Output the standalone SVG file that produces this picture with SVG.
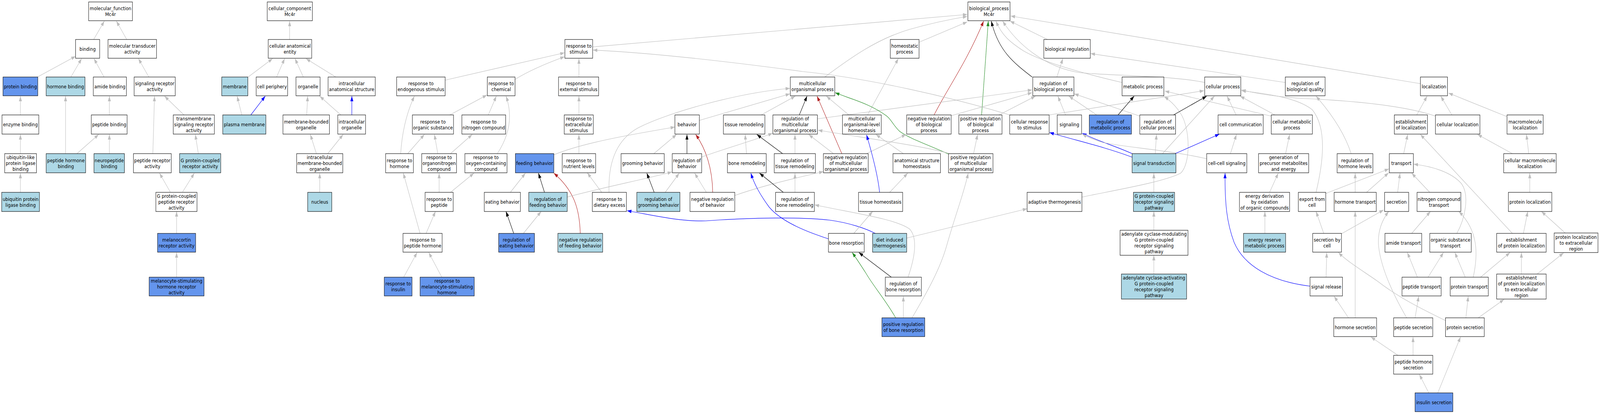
<svg xmlns="http://www.w3.org/2000/svg" width="4784" height="1059" viewBox="0 0 4784 1059" preserveAspectRatio="none">
<defs>
<style>
svg{width:100vw;height:100vh}
rect{stroke:#000;stroke-width:1.1;fill:#fff}
rect.cb{fill:#6495ED}
rect.lb{fill:#ADD8E6}
text{font-family:"DejaVu Sans","Liberation Sans",sans-serif;font-size:13px;fill:#000;text-anchor:middle}
path{fill:none;stroke:#BEBEBE;stroke-width:1.2;marker-end:url(#mg)}
path.k{stroke:#000;marker-end:url(#mk)}
path.r{stroke:#B22222;marker-end:url(#mr)}
path.g{stroke:#228B22;marker-end:url(#mgr)}
path.b{stroke:#0000FF;marker-end:url(#mb)}
</style>
<marker id="mg" markerUnits="userSpaceOnUse" viewBox="0 0 13 9" refX="13" refY="4.5" markerWidth="13" markerHeight="9" orient="auto"><polygon points="0,0 13,4.5 0,9" fill="#BEBEBE"/></marker>
<marker id="mk" markerUnits="userSpaceOnUse" viewBox="0 0 13 9" refX="13" refY="4.5" markerWidth="13" markerHeight="9" orient="auto"><polygon points="0,0 13,4.5 0,9" fill="#000"/></marker>
<marker id="mr" markerUnits="userSpaceOnUse" viewBox="0 0 13 9" refX="13" refY="4.5" markerWidth="13" markerHeight="9" orient="auto"><polygon points="0,0 13,4.5 0,9" fill="#B22222"/></marker>
<marker id="mgr" markerUnits="userSpaceOnUse" viewBox="0 0 13 9" refX="13" refY="4.5" markerWidth="13" markerHeight="9" orient="auto"><polygon points="0,0 13,4.5 0,9" fill="#228B22"/></marker>
<marker id="mb" markerUnits="userSpaceOnUse" viewBox="0 0 13 9" refX="13" refY="4.5" markerWidth="13" markerHeight="9" orient="auto"><polygon points="0,0 13,4.5 0,9" fill="#0000FF"/></marker>
</defs>
<rect x="0" y="0" width="4784" height="1059" style="fill:#fff;stroke:none"/>
<g id="edges">
<path d="M280,101 L312,54"/>
<path d="M379,101 L348,54"/>
<path d="M112,197 L226,144"/>
<path d="M212,197 L244,150"/>
<path d="M311,197 L281,150"/>
<path d="M445,197 L414,150"/>
<path d="M61,294 L61,246"/>
<path d="M327,294 L327,246"/>
<path d="M550,294 L492,246"/>
<path d="M457,393 L462,246"/>
<path d="M61,393 L61,344"/>
<path d="M196,393 L196,246"/>
<path d="M230,393 L295,344"/>
<path d="M327,393 L327,344"/>
<path d="M593,393 L584,344"/>
<path d="M61,492 L61,443"/>
<path d="M509,491 L477,443"/>
<path d="M546,491 L581,443"/>
<path d="M528,597 L528,541"/>
<path d="M528,709 L528,646"/>
<path d="M742,197 L815,150"/>
<path d="M723,294 L709,246"/>
<path class="b" d="M750,294 L793,246"/>
<path d="M827,197 L851,150"/>
<path d="M907,197 L882,150"/>
<path d="M1004,197 L915,150"/>
<path d="M866,101 L866,54"/>
<path d="M917,294 L920,246"/>
<path d="M1019,294 L956,246"/>
<path class="b" d="M1052,294 L1052,246"/>
<path d="M946,393 L928,344"/>
<path d="M980,393 L1026,344"/>
<path d="M956,492 L956,443"/>
<path d="M1331,205 L1688,135"/>
<path d="M1540,203 C1580,182 1640,160 1688,145"/>
<path d="M1731,197 L1731,150"/>
<path d="M1345,294 L1456,243"/>
<path d="M1460,294 L1484,246"/>
<path d="M1487,393 C1520,350 1535,300 1513,246"/>
<path d="M1198,393 C1202,340 1215,290 1239,246"/>
<path d="M1219,393 L1269,344"/>
<path d="M1309,393 L1299,344"/>
<path d="M1347,393 L1412,344"/>
<path d="M1313,492 L1313,443"/>
<path d="M1347,492 L1417,443"/>
<path d="M1526,492 L1571,443"/>
<path d="M1256,597 L1206,443"/>
<path d="M1274,597 L1302,541"/>
<path d="M1207,709 L1247,646"/>
<path d="M1321,709 L1282,646"/>
<path class="k" d="M1536,597 L1513,541"/>
<path d="M1565,597 L1618,541"/>
<path d="M1731,294 L1731,246"/>
<path d="M1731,393 L1731,344"/>
<path d="M1656,396 C1740,366 1880,345 2018,325"/>
<path d="M1799,492 L1756,442"/>
<path d="M1821,492 C1818,420 1840,360 1906,328 C1990,290 2200,238 2362,226"/>
<path d="M2091,308 L2362,240"/>
<path d="M2276,294 L2378,246"/>
<path class="k" d="M2390,294 L2413,246"/>
<path d="M1955,393 L2023,344"/>
<path class="k" d="M2054,393 L2054,344"/>
<path class="r" d="M2131,492 C2130,430 2110,380 2080,344"/>
<path d="M2097,402 C2150,385 2250,360 2310,341"/>
<path d="M2232,393 L2228,344"/>
<path class="k" d="M2340,393 L2263,344"/>
<path d="M2377,393 L2377,344"/>
<path class="k" d="M1628,492 L1610,443"/>
<path class="r" d="M1735,597 C1733,540 1720,490 1656,443"/>
<path d="M1696,504 C1800,480 1920,460 2009,440"/>
<path class="k" d="M1956,492 L1934,443"/>
<path d="M1989,492 L2031,443"/>
<path d="M2112,492 L2077,443"/>
<path d="M2197,500 C2280,475 2380,455 2462,439"/>
<path class="b" d="M2477,611 C2420,595 2340,570 2300,530 C2270,495 2255,470 2245,443"/>
<path class="k" d="M2342,492 L2271,443"/>
<path d="M2377,492 L2377,443"/>
<path class="b" d="M2617,597 C2590,585 2540,570 2480,563 C2400,555 2250,556 2110,565 C2030,567 1950,550 1875,539"/>
<path d="M1772,120 L2892,37"/>
<path d="M2466,197 C2540,150 2620,100 2720,75 C2790,58 2850,48 2892,42"/>
<path d="M2748,108 L2892,56"/>
<path class="r" d="M2793,294 C2830,230 2890,160 2941,54"/>
<path class="g" d="M2935,294 L2955,54"/>
<path class="k" d="M3086,197 C3030,160 2985,130 2964,54"/>
<path d="M3355,211 C3250,190 3120,160 3060,130 C3020,108 2995,90 2978,54"/>
<path d="M3602,211 C3500,193 3350,195 3230,186 C3120,172 3040,110 2998,54"/>
<path d="M3132,101 L3020,54"/>
<path d="M4247,214 L3022,41"/>
<path d="M3843,211 L3261,137"/>
<path d="M3160,197 L3178,150"/>
<path d="M2444,304 L3086,230"/>
<path d="M2844,296 L3086,237"/>
<path d="M2987,294 L3096,246"/>
<path d="M3186,294 L3163,246"/>
<path d="M3279,294 L3196,246"/>
<path d="M3408,297 L3212,240"/>
<path d="M3027,296 C2850,250 2600,200 2400,183 C2200,160 1950,135 1773,128"/>
<path d="M3137,294 L3600,232"/>
<path d="M2594,294 L2686,150"/>
<path d="M2538,294 L2471,246"/>
<path class="r" d="M2517,393 L2443,246"/>
<path class="g" d="M2836,394 C2780,372 2720,355 2690,336 C2670,320 2665,305 2650,296 C2600,265 2550,255 2497,237"/>
<path d="M2492,393 L2418,344"/>
<path d="M2836,392 C2750,372 2600,355 2446,333"/>
<path d="M2591,393 L2709,344"/>
<path class="b" d="M2630,492 C2625,450 2610,400 2591,345"/>
<path d="M2660,492 L2714,443"/>
<path d="M2701,393 L2619,344"/>
<path d="M2911,393 L2923,344"/>
<path d="M2715,709 C2735,660 2745,610 2720,586 C2680,560 2550,545 2436,524"/>
<path d="M2727,813 C2770,750 2810,690 2830,630 C2860,540 2880,500 2895,443"/>
<path d="M2553,597 L2609,541"/>
<path d="M2711,609 L3071,534"/>
<path class="k" d="M2665,709 L2568,646"/>
<path class="g" d="M2678,813 C2650,770 2610,730 2590,700 C2575,680 2560,660 2548,646"/>
<path d="M2701,813 L2701,758"/>
<path d="M3235,504 C3350,484 3480,465 3530,443 C3560,420 3560,330 3530,290 C3515,270 3500,258 3481,247"/>
<path class="k" d="M3343,294 L3391,246"/>
<path d="M3801,297 L3483,233"/>
<path class="k" d="M3509,294 L3608,246"/>
<path d="M3476,393 L3631,246"/>
<path d="M3696,294 L3669,246"/>
<path d="M3812,294 L3708,246"/>
<path d="M4292,297 C4200,270 4050,258 3900,252 C3820,248 3760,240 3712,230"/>
<path d="M3935,492 C3955,420 3970,330 3924,281 C3880,250 3790,240 3712,232"/>
<path d="M4040,393 C4020,340 3980,290 3935,246"/>
<path class="b" d="M3385,393 C3340,375 3280,360 3236,341"/>
<path class="b" d="M3385,402 C3300,375 3220,360 3138,339"/>
<path d="M3608,406 C3500,385 3380,378 3300,365 C3270,358 3250,350 3236,343"/>
<path class="b" d="M3514,393 L3646,343"/>
<path d="M3679,393 L3697,344"/>
<path d="M3454,393 L3458,344"/>
<path d="M3844,393 L3856,344"/>
<path d="M3796,492 L3822,443"/>
<path d="M3450,492 L3450,443"/>
<path class="b" d="M3917,732 C3800,720 3720,680 3690,620 C3668,570 3662,520 3663,443"/>
<path d="M3450,589 L3450,541"/>
<path d="M3450,701 L3450,653"/>
<path d="M3782,597 L3782,541"/>
<path d="M3958,597 L3935,541"/>
<path d="M3965,709 L3967,646"/>
<path d="M4032,813 L3989,758"/>
<path d="M4236,294 L4267,246"/>
<path d="M4341,294 L4308,246"/>
<path d="M4505,298 L4331,238"/>
<path d="M4197,393 L4209,344"/>
<path d="M4522,393 L4418,344"/>
<path d="M4571,393 L4564,344"/>
<path d="M3964,495 L4153,432"/>
<path d="M4086,492 L4152,442"/>
<path d="M4179,492 L4186,443"/>
<path d="M4275,492 L4221,443"/>
<path d="M4356,597 C4380,560 4395,500 4370,470 C4340,440 4280,425 4227,420"/>
<path d="M4522,597 L4247,344"/>
<path d="M4052,492 L4052,443"/>
<path d="M4574,492 L4574,443"/>
<path d="M4052,813 L4052,541"/>
<path d="M4011,598 L4137,537"/>
<path d="M4206,813 C4170,760 4130,690 4122,630 C4118,590 4135,560 4152,541"/>
<path d="M4231,813 L4242,758"/>
<path d="M4322,820 C4250,790 4180,760 4120,720 C4070,690 4030,670 4002,646"/>
<path d="M4383,813 L4390,758"/>
<path d="M4420,813 L4497,766"/>
<path d="M4221,597 L4277,541"/>
<path d="M4238,709 L4208,646"/>
<path d="M4270,709 L4316,646"/>
<path d="M4381,709 L4350,646"/>
<path d="M4405,709 C4420,650 4420,590 4362,541"/>
<path d="M4427,709 L4515,646"/>
<path d="M4555,597 L4568,541"/>
<path d="M4680,596 L4609,541"/>
<path d="M4549,701 L4549,646"/>
<path d="M4596,701 L4675,647"/>
<path d="M4180,909 L4099,862"/>
<path d="M4225,909 L4225,862"/>
<path d="M4272,1005 L4244,958"/>
<path d="M4299,1005 L4367,862"/>
</g>
<g id="n_molecular_function"><rect x="265" y="5" width="131" height="48"/><text x="330.5" y="26.1">molecular_function<tspan x="330.5" dy="15">Mc4r</tspan></text></g>
<g id="n_cellular_component"><rect x="799" y="5" width="135" height="48"/><text x="866.5" y="26.1">cellular_component<tspan x="866.5" dy="15">Mc4r</tspan></text></g>
<g id="n_biological_process"><rect x="2894" y="5" width="126" height="48"/><text x="2957" y="26.1">biological_process<tspan x="2957" dy="15">Mc4r</tspan></text></g>
<g id="n_binding"><rect x="226" y="101" width="72" height="48"/><text x="262" y="129.6">binding</text></g>
<g id="n_molecular_transducer_activity"><rect x="323" y="101" width="145" height="48"/><text x="395.5" y="122.1">molecular transducer<tspan x="395.5" dy="15">activity</tspan></text></g>
<g id="n_cellular_anatomical_entity"><rect x="802" y="101" width="130" height="48"/><text x="867" y="122.1">cellular anatomical<tspan x="867" dy="15">entity</tspan></text></g>
<g id="n_response_to_stimulus"><rect x="1689" y="101" width="83" height="48"/><text x="1730.5" y="122.1">response to<tspan x="1730.5" dy="15">stimulus</tspan></text></g>
<g id="n_homeostatic_process"><rect x="2662" y="101" width="86" height="48"/><text x="2705" y="122.1">homeostatic<tspan x="2705" dy="15">process</tspan></text></g>
<g id="n_biological_regulation"><rect x="3121" y="101" width="139" height="48"/><text x="3190.5" y="129.6">biological regulation</text></g>
<g id="n_protein_binding"><rect class="cb" x="9" y="197" width="104" height="48"/><text x="61" y="225.6">protein binding</text></g>
<g id="n_hormone_binding"><rect class="lb" x="138" y="197" width="116" height="48"/><text x="196" y="225.6">hormone binding</text></g>
<g id="n_amide_binding"><rect x="279" y="197" width="99" height="48"/><text x="328.5" y="225.6">amide binding</text></g>
<g id="n_signaling_receptor_activity"><rect x="401" y="197" width="123" height="48"/><text x="462.5" y="218.1">signaling receptor<tspan x="462.5" dy="15">activity</tspan></text></g>
<g id="n_membrane"><rect class="lb" x="663" y="197" width="78" height="48"/><text x="702" y="225.6">membrane</text></g>
<g id="n_cell_periphery"><rect x="766" y="197" width="94" height="48"/><text x="813" y="225.6">cell periphery</text></g>
<g id="n_organelle"><rect x="885" y="197" width="72" height="48"/><text x="921" y="225.6">organelle</text></g>
<g id="n_intracellular_anatomical_structure"><rect x="981" y="197" width="141" height="48"/><text x="1051.5" y="218.1">intracellular<tspan x="1051.5" dy="15">anatomical structure</tspan></text></g>
<g id="n_response_to_endogenous_stimulus"><rect x="1186" y="197" width="145" height="48"/><text x="1258.5" y="218.1">response to<tspan x="1258.5" dy="15">endogenous stimulus</tspan></text></g>
<g id="n_response_to_chemical"><rect x="1457" y="197" width="83" height="48"/><text x="1498.5" y="218.1">response to<tspan x="1498.5" dy="15">chemical</tspan></text></g>
<g id="n_response_to_external_stimulus"><rect x="1670" y="197" width="120" height="48"/><text x="1730" y="218.1">response to<tspan x="1730" dy="15">external stimulus</tspan></text></g>
<g id="n_multicellular_organismal_process"><rect x="2363" y="197" width="133" height="48"/><text x="2429.5" y="218.1">multicellular<tspan x="2429.5" dy="15">organismal process</tspan></text></g>
<g id="n_regulation_of_biological_process"><rect x="3088" y="197" width="123" height="48"/><text x="3149.5" y="218.1">regulation of<tspan x="3149.5" dy="15">biological process</tspan></text></g>
<g id="n_metabolic_process"><rect x="3355" y="197" width="125" height="48"/><text x="3417.5" y="225.6">metabolic process</text></g>
<g id="n_cellular_process"><rect x="3602" y="197" width="108" height="48"/><text x="3656" y="225.6">cellular process</text></g>
<g id="n_regulation_of_biological_quality"><rect x="3843" y="197" width="119" height="48"/><text x="3902.5" y="218.1">regulation of<tspan x="3902.5" dy="15">biological quality</tspan></text></g>
<g id="n_localization"><rect x="4247" y="197" width="81" height="48"/><text x="4287.5" y="225.6">localization</text></g>
<g id="n_enzyme_binding"><rect x="6" y="294" width="110" height="49"/><text x="61" y="323.1">enzyme binding</text></g>
<g id="n_peptide_binding"><rect x="273" y="294" width="107" height="49"/><text x="326.5" y="323.1">peptide binding</text></g>
<g id="n_transmembrane_signaling_receptor_activity"><rect x="518" y="294" width="123" height="49"/><text x="579.5" y="308.1">transmembrane<tspan x="579.5" dy="15">signaling receptor</tspan><tspan x="579.5" dy="15">activity</tspan></text></g>
<g id="n_plasma_membrane"><rect class="lb" x="666" y="294" width="129" height="49"/><text x="730.5" y="323.1">plasma membrane</text></g>
<g id="n_membrane_bounded_organelle"><rect x="846" y="294" width="139" height="49"/><text x="915.5" y="315.6">membrane-bounded<tspan x="915.5" dy="15">organelle</tspan></text></g>
<g id="n_intracellular_organelle"><rect x="1010" y="294" width="83" height="49"/><text x="1051.5" y="315.6">intracellular<tspan x="1051.5" dy="15">organelle</tspan></text></g>
<g id="n_response_to_organic_substance"><rect x="1233" y="294" width="123" height="49"/><text x="1294.5" y="315.6">response to<tspan x="1294.5" dy="15">organic substance</tspan></text></g>
<g id="n_response_to_nitrogen_compound"><rect x="1381" y="294" width="131" height="49"/><text x="1446.5" y="315.6">response to<tspan x="1446.5" dy="15">nitrogen compound</tspan></text></g>
<g id="n_response_to_extracellular_stimulus"><rect x="1687" y="294" width="87" height="49"/><text x="1730.5" y="308.1">response to<tspan x="1730.5" dy="15">extracellular</tspan><tspan x="1730.5" dy="15">stimulus</tspan></text></g>
<g id="n_behavior"><rect x="2018" y="294" width="73" height="49"/><text x="2054.5" y="323.1">behavior</text></g>
<g id="n_tissue_remodeling"><rect x="2163" y="294" width="124" height="49"/><text x="2225" y="323.1">tissue remodeling</text></g>
<g id="n_regulation_of_multicellular_organismal_process"><rect x="2311" y="294" width="133" height="49"/><text x="2377.5" y="308.1">regulation of<tspan x="2377.5" dy="15">multicellular</tspan><tspan x="2377.5" dy="15">organismal process</tspan></text></g>
<g id="n_multicellular_organismal_level_homeostasis"><rect x="2519" y="294" width="116" height="49"/><text x="2577" y="308.1">multicellular<tspan x="2577" dy="15">organismal-level</tspan><tspan x="2577" dy="15">homeostasis</tspan></text></g>
<g id="n_negative_regulation_of_biological_process"><rect x="2711" y="294" width="133" height="49"/><text x="2777.5" y="308.1">negative regulation<tspan x="2777.5" dy="15">of biological</tspan><tspan x="2777.5" dy="15">process</tspan></text></g>
<g id="n_positive_regulation_of_biological_process"><rect x="2867" y="294" width="129" height="49"/><text x="2931.5" y="308.1">positive regulation<tspan x="2931.5" dy="15">of biological</tspan><tspan x="2931.5" dy="15">process</tspan></text></g>
<g id="n_cellular_response_to_stimulus"><rect x="3019" y="294" width="118" height="49"/><text x="3078" y="315.6">cellular response<tspan x="3078" dy="15">to stimulus</tspan></text></g>
<g id="n_signaling"><rect x="3161" y="294" width="73" height="49"/><text x="3197.5" y="323.1">signaling</text></g>
<g id="n_regulation_of_metabolic_process"><rect class="cb" x="3257" y="294" width="126" height="49"/><text x="3320" y="315.6">regulation of<tspan x="3320" dy="15">metabolic process</tspan></text></g>
<g id="n_regulation_of_cellular_process"><rect x="3408" y="294" width="107" height="49"/><text x="3461.5" y="315.6">regulation of<tspan x="3461.5" dy="15">cellular process</tspan></text></g>
<g id="n_cell_communication"><rect x="3642" y="294" width="135" height="49"/><text x="3709.5" y="323.1">cell communication</text></g>
<g id="n_cellular_metabolic_process"><rect x="3801" y="294" width="123" height="49"/><text x="3862.5" y="315.6">cellular metabolic<tspan x="3862.5" dy="15">process</tspan></text></g>
<g id="n_establishment_of_localization"><rect x="4169" y="294" width="99" height="49"/><text x="4218.5" y="315.6">establishment<tspan x="4218.5" dy="15">of localization</tspan></text></g>
<g id="n_cellular_localization"><rect x="4292" y="294" width="133" height="49"/><text x="4358.5" y="323.1">cellular localization</text></g>
<g id="n_macromolecule_localization"><rect x="4506" y="294" width="108" height="49"/><text x="4560" y="315.6">macromolecule<tspan x="4560" dy="15">localization</tspan></text></g>
<g id="n_ubiquitin_like_protein_ligase_binding"><rect x="14" y="393" width="95" height="49"/><text x="61.5" y="407.1">ubiquitin-like<tspan x="61.5" dy="15">protein ligase</tspan><tspan x="61.5" dy="15">binding</tspan></text></g>
<g id="n_peptide_hormone_binding"><rect class="lb" x="138" y="393" width="118" height="49"/><text x="197" y="414.6">peptide hormone<tspan x="197" dy="15">binding</tspan></text></g>
<g id="n_neuropeptide_binding"><rect class="lb" x="281" y="393" width="91" height="49"/><text x="326.5" y="414.6">neuropeptide<tspan x="326.5" dy="15">binding</tspan></text></g>
<g id="n_peptide_receptor_activity"><rect x="399" y="393" width="113" height="49"/><text x="455.5" y="414.6">peptide receptor<tspan x="455.5" dy="15">activity</tspan></text></g>
<g id="n_g_protein_coupled_receptor_activity"><rect class="lb" x="537" y="393" width="123" height="49"/><text x="598.5" y="414.6">G protein-coupled<tspan x="598.5" dy="15">receptor activity</tspan></text></g>
<g id="n_intracellular_membrane_bounded_organelle"><rect x="887" y="393" width="138" height="49"/><text x="956" y="407.1">intracellular<tspan x="956" dy="15">membrane-bounded</tspan><tspan x="956" dy="15">organelle</tspan></text></g>
<g id="n_response_to_hormone"><rect x="1153" y="393" width="83" height="49"/><text x="1194.5" y="414.6">response to<tspan x="1194.5" dy="15">hormone</tspan></text></g>
<g id="n_response_to_organonitrogen_compound"><rect x="1261" y="393" width="104" height="49"/><text x="1313" y="407.1">response to<tspan x="1313" dy="15">organonitrogen</tspan><tspan x="1313" dy="15">compound</tspan></text></g>
<g id="n_response_to_oxygen_containing_compound"><rect x="1390" y="393" width="126" height="49"/><text x="1453" y="407.1">response to<tspan x="1453" dy="15">oxygen-containing</tspan><tspan x="1453" dy="15">compound</tspan></text></g>
<g id="n_feeding_behavior"><rect class="cb" x="1541" y="393" width="115" height="49"/><text x="1598.5" y="422.1">feeding behavior</text></g>
<g id="n_response_to_nutrient_levels"><rect x="1681" y="393" width="100" height="49"/><text x="1731" y="414.6">response to<tspan x="1731" dy="15">nutrient levels</tspan></text></g>
<g id="n_grooming_behavior"><rect x="1857" y="393" width="129" height="49"/><text x="1921.5" y="422.1">grooming behavior</text></g>
<g id="n_regulation_of_behavior"><rect x="2010" y="393" width="88" height="49"/><text x="2054" y="414.6">regulation of<tspan x="2054" dy="15">behavior</tspan></text></g>
<g id="n_bone_remodeling"><rect x="2175" y="393" width="116" height="49"/><text x="2233" y="422.1">bone remodeling</text></g>
<g id="n_regulation_of_tissue_remodeling"><rect x="2315" y="393" width="123" height="49"/><text x="2376.5" y="414.6">regulation of<tspan x="2376.5" dy="15">tissue remodeling</tspan></text></g>
<g id="n_negative_regulation_of_multicellular_organismal_process"><rect x="2462" y="393" width="134" height="49"/><text x="2529" y="407.1">negative regulation<tspan x="2529" dy="15">of multicellular</tspan><tspan x="2529" dy="15">organismal process</tspan></text></g>
<g id="n_anatomical_structure_homeostasis"><rect x="2670" y="393" width="142" height="49"/><text x="2741" y="414.6">anatomical structure<tspan x="2741" dy="15">homeostasis</tspan></text></g>
<g id="n_positive_regulation_of_multicellular_organismal_process"><rect x="2836" y="393" width="133" height="49"/><text x="2902.5" y="407.1">positive regulation<tspan x="2902.5" dy="15">of multicellular</tspan><tspan x="2902.5" dy="15">organismal process</tspan></text></g>
<g id="n_signal_transduction"><rect class="lb" x="3385" y="393" width="131" height="49"/><text x="3450.5" y="422.1">signal transduction</text></g>
<g id="n_cell_cell_signaling"><rect x="3608" y="393" width="120" height="49"/><text x="3668" y="422.1">cell-cell signaling</text></g>
<g id="n_generation_of_precursor_metabolites_and_energy"><rect x="3763" y="393" width="150" height="49"/><text x="3838" y="407.1">generation of<tspan x="3838" dy="15">precursor metabolites</tspan><tspan x="3838" dy="15">and energy</tspan></text></g>
<g id="n_regulation_of_hormone_levels"><rect x="3998" y="393" width="107" height="49"/><text x="4051.5" y="414.6">regulation of<tspan x="4051.5" dy="15">hormone levels</tspan></text></g>
<g id="n_transport"><rect x="4154" y="393" width="72" height="49"/><text x="4190" y="422.1">transport</text></g>
<g id="n_cellular_macromolecule_localization"><rect x="4496" y="393" width="157" height="49"/><text x="4574.5" y="414.6">cellular macromolecule<tspan x="4574.5" dy="15">localization</tspan></text></g>
<g id="n_ubiquitin_protein_ligase_binding"><rect class="lb" x="5" y="492" width="113" height="49"/><text x="61.5" y="513.6">ubiquitin protein<tspan x="61.5" dy="15">ligase binding</tspan></text></g>
<g id="n_g_protein_coupled_peptide_receptor_activity"><rect x="466" y="492" width="123" height="49"/><text x="527.5" y="506.1">G protein-coupled<tspan x="527.5" dy="15">peptide receptor</tspan><tspan x="527.5" dy="15">activity</tspan></text></g>
<g id="n_nucleus"><rect class="lb" x="920" y="492" width="72" height="49"/><text x="956" y="521.1">nucleus</text></g>
<g id="n_response_to_peptide"><rect x="1271" y="492" width="84" height="49"/><text x="1313" y="513.6">response to<tspan x="1313" dy="15">peptide</tspan></text></g>
<g id="n_eating_behavior"><rect x="1448" y="492" width="108" height="49"/><text x="1502" y="521.1">eating behavior</text></g>
<g id="n_regulation_of_feeding_behavior"><rect class="lb" x="1581" y="492" width="115" height="49"/><text x="1638.5" y="513.6">regulation of<tspan x="1638.5" dy="15">feeding behavior</tspan></text></g>
<g id="n_response_to_dietary_excess"><rect x="1771" y="492" width="102" height="49"/><text x="1822" y="513.6">response to<tspan x="1822" dy="15">dietary excess</tspan></text></g>
<g id="n_regulation_of_grooming_behavior"><rect class="lb" x="1904" y="492" width="129" height="49"/><text x="1968.5" y="513.6">regulation of<tspan x="1968.5" dy="15">grooming behavior</tspan></text></g>
<g id="n_negative_regulation_of_behavior"><rect x="2063" y="492" width="134" height="49"/><text x="2130" y="513.6">negative regulation<tspan x="2130" dy="15">of behavior</tspan></text></g>
<g id="n_regulation_of_bone_remodeling"><rect x="2319" y="492" width="116" height="49"/><text x="2377" y="513.6">regulation of<tspan x="2377" dy="15">bone remodeling</tspan></text></g>
<g id="n_tissue_homeostasis"><rect x="2567" y="492" width="132" height="49"/><text x="2633" y="521.1">tissue homeostasis</text></g>
<g id="n_adaptive_thermogenesis"><rect x="3071" y="492" width="164" height="49"/><text x="3153" y="521.1">adaptive thermogenesis</text></g>
<g id="n_g_protein_coupled_receptor_signaling_pathway"><rect class="lb" x="3389" y="492" width="123" height="49"/><text x="3450.5" y="506.1">G protein-coupled<tspan x="3450.5" dy="15">receptor signaling</tspan><tspan x="3450.5" dy="15">pathway</tspan></text></g>
<g id="n_energy_derivation_by_oxidation_of_organic_compounds"><rect x="3706" y="492" width="150" height="49"/><text x="3781" y="506.1">energy derivation<tspan x="3781" dy="15">by oxidation</tspan><tspan x="3781" dy="15">of organic compounds</tspan></text></g>
<g id="n_export_from_cell"><rect x="3882" y="492" width="82" height="49"/><text x="3923" y="513.6">export from<tspan x="3923" dy="15">cell</tspan></text></g>
<g id="n_hormone_transport"><rect x="3989" y="492" width="126" height="49"/><text x="4052" y="521.1">hormone transport</text></g>
<g id="n_secretion"><rect x="4140" y="492" width="72" height="49"/><text x="4176" y="521.1">secretion</text></g>
<g id="n_nitrogen_compound_transport"><rect x="4237" y="492" width="131" height="49"/><text x="4302.5" y="513.6">nitrogen compound<tspan x="4302.5" dy="15">transport</tspan></text></g>
<g id="n_protein_localization"><rect x="4510" y="492" width="130" height="49"/><text x="4575" y="521.1">protein localization</text></g>
<g id="n_melanocortin_receptor_activity"><rect class="cb" x="471" y="597" width="114" height="48"/><text x="528" y="618.1">melanocortin<tspan x="528" dy="15">receptor activity</tspan></text></g>
<g id="n_response_to_peptide_hormone"><rect x="1205" y="597" width="117" height="48"/><text x="1263.5" y="618.1">response to<tspan x="1263.5" dy="15">peptide hormone</tspan></text></g>
<g id="n_regulation_of_eating_behavior"><rect class="cb" x="1491" y="597" width="107" height="48"/><text x="1544.5" y="618.1">regulation of<tspan x="1544.5" dy="15">eating behavior</tspan></text></g>
<g id="n_negative_regulation_of_feeding_behavior"><rect class="lb" x="1668" y="597" width="134" height="48"/><text x="1735" y="618.1">negative regulation<tspan x="1735" dy="15">of feeding behavior</tspan></text></g>
<g id="n_bone_resorption"><rect x="2477" y="597" width="107" height="48"/><text x="2530.5" y="625.6">bone resorption</text></g>
<g id="n_diet_induced_thermogenesis"><rect class="lb" x="2609" y="597" width="102" height="48"/><text x="2660" y="618.1">diet induced<tspan x="2660" dy="15">thermogenesis</tspan></text></g>
<g id="n_adenylate_cyclase_modulating_gpcr_signaling_pathway"><rect x="3349" y="589" width="203" height="64"/><text x="3450.5" y="603.1">adenylate cyclase-modulating<tspan x="3450.5" dy="15">G protein-coupled</tspan><tspan x="3450.5" dy="15">receptor signaling</tspan><tspan x="3450.5" dy="15">pathway</tspan></text></g>
<g id="n_energy_reserve_metabolic_process"><rect class="lb" x="3718" y="597" width="126" height="48"/><text x="3781" y="618.1">energy reserve<tspan x="3781" dy="15">metabolic process</tspan></text></g>
<g id="n_secretion_by_cell"><rect x="3925" y="597" width="86" height="48"/><text x="3968" y="618.1">secretion by<tspan x="3968" dy="15">cell</tspan></text></g>
<g id="n_amide_transport"><rect x="4141" y="597" width="110" height="48"/><text x="4196" y="625.6">amide transport</text></g>
<g id="n_organic_substance_transport"><rect x="4275" y="597" width="124" height="48"/><text x="4337" y="618.1">organic substance<tspan x="4337" dy="15">transport</tspan></text></g>
<g id="n_establishment_of_protein_localization"><rect x="4475" y="597" width="148" height="48"/><text x="4549" y="618.1">establishment<tspan x="4549" dy="15">of protein localization</tspan></text></g>
<g id="n_protein_localization_to_extracellular_region"><rect x="4647" y="596" width="131" height="50"/><text x="4712.5" y="610.6">protein localization<tspan x="4712.5" dy="15">to extracellular</tspan><tspan x="4712.5" dy="15">region</tspan></text></g>
<g id="n_melanocyte_stimulating_hormone_receptor_activity"><rect class="cb" x="446" y="709" width="164" height="48"/><text x="528" y="722.6">melanocyte-stimulating<tspan x="528" dy="15">hormone receptor</tspan><tspan x="528" dy="15">activity</tspan></text></g>
<g id="n_response_to_insulin"><rect class="cb" x="1149" y="709" width="83" height="48"/><text x="1190.5" y="730.1">response to<tspan x="1190.5" dy="15">insulin</tspan></text></g>
<g id="n_response_to_melanocyte_stimulating_hormone"><rect class="cb" x="1256" y="709" width="162" height="48"/><text x="1337" y="722.6">response to<tspan x="1337" dy="15">melanocyte-stimulating</tspan><tspan x="1337" dy="15">hormone</tspan></text></g>
<g id="n_regulation_of_bone_resorption"><rect x="2647" y="709" width="108" height="48"/><text x="2701" y="730.1">regulation of<tspan x="2701" dy="15">bone resorption</tspan></text></g>
<g id="n_adenylate_cyclase_activating_gpcr_signaling_pathway"><rect class="lb" x="3353" y="701" width="195" height="64"/><text x="3450.5" y="715.1">adenylate cyclase-activating<tspan x="3450.5" dy="15">G protein-coupled</tspan><tspan x="3450.5" dy="15">receptor signaling</tspan><tspan x="3450.5" dy="15">pathway</tspan></text></g>
<g id="n_signal_release"><rect x="3917" y="709" width="97" height="48"/><text x="3965.5" y="737.6">signal release</text></g>
<g id="n_peptide_transport"><rect x="4192" y="709" width="117" height="48"/><text x="4250.5" y="737.6">peptide transport</text></g>
<g id="n_protein_transport"><rect x="4336" y="709" width="114" height="48"/><text x="4393" y="737.6">protein transport</text></g>
<g id="n_establishment_of_protein_localization_to_extracellular_region"><rect x="4475" y="701" width="148" height="64"/><text x="4549" y="715.1">establishment<tspan x="4549" dy="15">of protein localization</tspan><tspan x="4549" dy="15">to extracellular</tspan><tspan x="4549" dy="15">region</tspan></text></g>
<g id="n_positive_regulation_of_bone_resorption"><rect class="cb" x="2637" y="813" width="128" height="48"/><text x="2701" y="834.1">positive regulation<tspan x="2701" dy="15">of bone resorption</tspan></text></g>
<g id="n_hormone_secretion"><rect x="3988" y="813" width="128" height="48"/><text x="4052" y="841.6">hormone secretion</text></g>
<g id="n_peptide_secretion"><rect x="4167" y="813" width="117" height="48"/><text x="4225.5" y="841.6">peptide secretion</text></g>
<g id="n_protein_secretion"><rect x="4322" y="813" width="116" height="48"/><text x="4380" y="841.6">protein secretion</text></g>
<g id="n_peptide_hormone_secretion"><rect x="4167" y="909" width="117" height="48"/><text x="4225.5" y="930.1">peptide hormone<tspan x="4225.5" dy="15">secretion</tspan></text></g>
<g id="n_insulin_secretion"><rect class="cb" x="4231" y="1005" width="113" height="48"/><text x="4287.5" y="1033.6">insulin secretion</text></g>
</svg>
